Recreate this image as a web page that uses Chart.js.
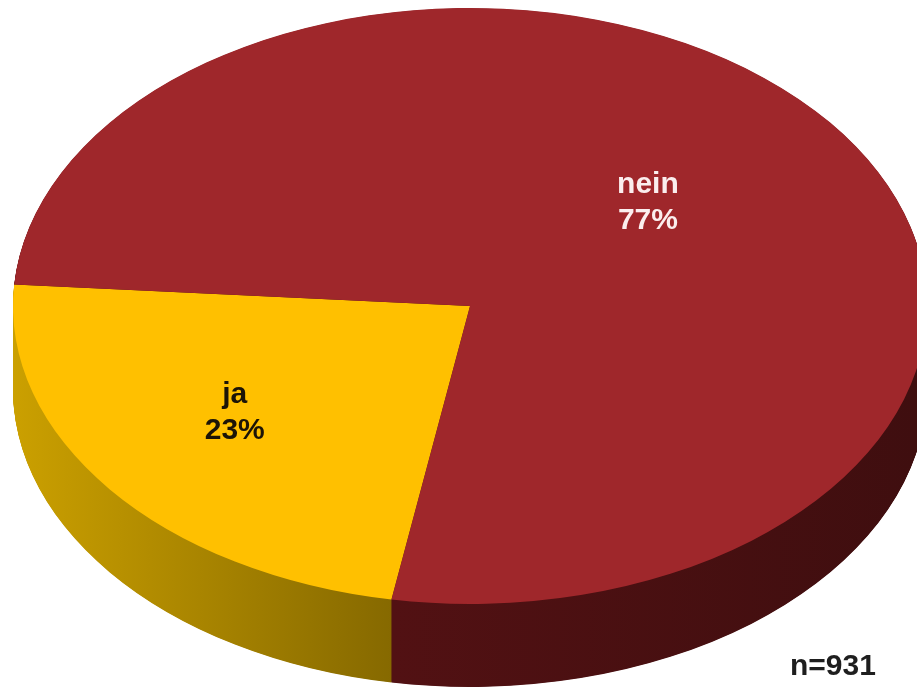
<!DOCTYPE html>
<html>
<head>
<meta charset="utf-8">
<style>html,body{margin:0;padding:0;background:#fff}canvas{display:block}</style>
<script src="https://cdn.jsdelivr.net/npm/chart.js@4/dist/chart.umd.min.js"></script>
</head>
<body>
<canvas id="c" width="917" height="688"></canvas>
<script>
const categories = ['ja', 'nein'];
const values = [23.4, 76.6];
const percentLabels = ['23%', '77%'];
const topColors = ['#ffc000', '#9f272b'];
const textColors = ['#1c1407', '#fbeeee'];
const wallStops = [['#cba000', '#866900'], ['#521113', '#3f0e0f']];
const note = 'n=931';

const CENTER_X = 470, CENTER_Y = 306, RX = 457, RY = 298, DEPTH = 83;
const LABEL_FX = [0.653, 0.494];
const LABEL_FY = [0.57, 0.572];

function applyTilt(ctx, arc) {
  const r = arc.outerRadius;
  ctx.translate(CENTER_X, CENTER_Y);
  ctx.scale(RX / r, RY / r);
  ctx.translate(-arc.x, -arc.y);
}

const tilted3d = {
  id: 'tilted3d',
  beforeDatasetsDraw(chart) {
    const ctx = chart.ctx;
    const arcs = chart.getDatasetMeta(0).data;
    const r = arcs[0].outerRadius, sx = RX / r;
    const toLocalX = px => (px - CENTER_X) / sx + arcs[0].x;
    const savedOptions = arcs.map(a => a.options);
    arcs.forEach((arc, i) => {
      const g = ctx.createLinearGradient(toLocalX(i === 0 ? 13 : 392), 0, toLocalX(i === 0 ? 392 : 917), 0);
      g.addColorStop(0, wallStops[i][0]);
      g.addColorStop(1, wallStops[i][1]);
      arc.options = Object.assign({}, savedOptions[i], {backgroundColor: g, borderWidth: 0});
    });
    for (let d = DEPTH; d > 0; d -= 0.5) {
      arcs.forEach(arc => {
        ctx.save();
        ctx.translate(0, d);
        applyTilt(ctx, arc);
        arc.draw(ctx);
        ctx.restore();
      });
    }
    arcs.forEach((arc, i) => { arc.options = savedOptions[i]; });
    ctx.save();
    applyTilt(ctx, arcs[0]);
  },
  afterDatasetsDraw(chart) {
    const ctx = chart.ctx;
    ctx.restore();
    const arcs = chart.getDatasetMeta(0).data;
    ctx.save();
    ctx.textAlign = 'center';
    ctx.textBaseline = 'alphabetic';
    ctx.font = 'bold 30px "Liberation Sans", Arial, sans-serif';
    arcs.forEach((arc, i) => {
      const mid = (arc.startAngle + arc.endAngle) / 2;
      const x = CENTER_X + Math.cos(mid) * LABEL_FX[i] * RX;
      const y = CENTER_Y + Math.sin(mid) * LABEL_FY[i] * RY;
      ctx.fillStyle = textColors[i];
      ctx.fillText(categories[i], x, y - 8);
      ctx.fillText(percentLabels[i], x, y + 28);
    });
    ctx.fillStyle = '#1e1e1e';
    ctx.textAlign = 'left';
    ctx.fillText(note, 790, 675);
    ctx.restore();
  }
};

new Chart(document.getElementById('c'), {
  type: 'pie',
  data: {
    labels: categories,
    datasets: [{data: values, backgroundColor: topColors, borderWidth: 0, hoverOffset: 0}]
  },
  options: {
    responsive: false,
    animation: false,
    rotation: 189.9,
    layout: {padding: 0},
    plugins: {legend: {display: false}, tooltip: {enabled: false}}
  },
  plugins: [tilted3d]
});
</script>
</body>
</html>
